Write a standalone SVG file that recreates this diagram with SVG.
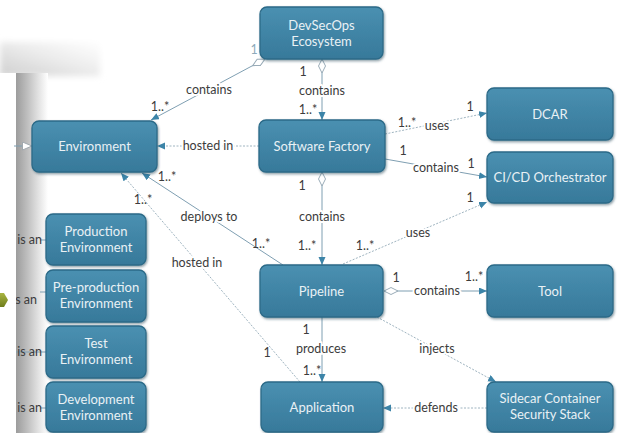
<svg xmlns="http://www.w3.org/2000/svg" width="627" height="433" viewBox="0 0 627 433">
  <defs>
    <linearGradient id="nodeFill" x1="0" y1="0" x2="0" y2="1">
      <stop offset="0" stop-color="#4a90b1"/>
      <stop offset="1" stop-color="#37799a"/>
    </linearGradient>
    <linearGradient id="sideShade" x1="0" y1="0" x2="1" y2="0">
      <stop offset="0" stop-color="#9c9c9c"/>
      <stop offset="0.35" stop-color="#bebebe"/>
      <stop offset="0.7" stop-color="#e2e2e2"/>
      <stop offset="1" stop-color="#ffffff"/>
    </linearGradient>
    <linearGradient id="topShade" x1="0" y1="1" x2="1" y2="0">
      <stop offset="0" stop-color="#cfcfcf"/>
      <stop offset="0.6" stop-color="#efefef"/>
      <stop offset="1" stop-color="#ffffff"/>
    </linearGradient>
    <linearGradient id="olive" x1="0" y1="0" x2="0" y2="1">
      <stop offset="0" stop-color="#a9b542"/>
      <stop offset="1" stop-color="#6f7d1c"/>
    </linearGradient>
    <filter id="shadow" x="-10%" y="-10%" width="125%" height="130%">
      <feDropShadow dx="1" dy="1.5" stdDeviation="1" flood-color="#1d3f52" flood-opacity="0.5"/>
    </filter>
    <filter id="soft" x="-20%" y="-50%" width="140%" height="200%">
      <feGaussianBlur stdDeviation="3"/>
    </filter>
    <clipPath id="panelClip">
      <rect x="16" y="73" width="40" height="360"/>
    </clipPath>
    <marker id="arrow" markerUnits="userSpaceOnUse" markerWidth="9" markerHeight="8" refX="8" refY="3.5" orient="auto">
      <path d="M0,0 L8,3.5 L0,7 z" fill="#3c84a8"/>
    </marker>
    <marker id="agg" markerUnits="userSpaceOnUse" markerWidth="16" markerHeight="10" refX="0.5" refY="4" orient="auto">
      <path d="M0.5,4 L7.5,0.5 L14.5,4 L7.5,7.5 z" fill="#ffffff" stroke="#9aacb8" stroke-width="1"/>
    </marker>
    <marker id="gen" markerUnits="userSpaceOnUse" markerWidth="12" markerHeight="10" refX="10" refY="4.5" orient="auto">
      <path d="M0.5,0.5 L10,4.5 L0.5,8.5 z" fill="#ffffff" stroke="#a0a8ae" stroke-width="1"/>
    </marker>
    <style>
      .node rect { fill: url(#nodeFill); stroke: #2c6a88; stroke-width: 1.3; filter: url(#shadow); }
      .node text { font-family: "Lato", "Open Sans", "Liberation Sans", sans-serif; font-size: 13px; fill: #e9f1f5; text-anchor: middle; }
      .solid { fill: none; stroke: #7f9fb2; stroke-width: 1; }
      .dot { fill: none; stroke: #9fb4c0; stroke-width: 1; stroke-dasharray: 2 1.5; }
      .lbl { font-family: "Lato", "Open Sans", "Liberation Sans", sans-serif; font-size: 12.5px; fill: #3c3c3c; text-anchor: middle; paint-order: stroke; stroke: #ffffff; stroke-width: 4px; stroke-linejoin: round; }
      .mul { font-family: "Lato", "Open Sans", "Liberation Sans", sans-serif; font-size: 12.5px; fill: #3c3c3c; text-anchor: middle; }
      .isan { font-family: "Lato", "Open Sans", "Liberation Sans", sans-serif; font-size: 12.5px; fill: #3c3c3c; text-anchor: end; }
    </style>
  </defs>

  <!-- page background and side panel shading -->
  <rect x="0" y="0" width="627" height="433" fill="#ffffff"/>
  <rect x="0" y="42" width="100" height="34" fill="url(#topShade)" filter="url(#soft)"/>
  <rect x="0" y="73" width="16" height="360" fill="#ffffff"/>
  <rect x="16" y="73" width="32" height="360" fill="url(#sideShade)"/>
  <polygon points="0,293 4,293 8,300 4,307 0,307" fill="url(#olive)"/>

  <!-- connectors -->
  <g id="connectors">
    <!-- generalization into Environment -->
    <line class="solid" x1="14" y1="146" x2="32" y2="146" stroke="#a0a8ae" marker-end="url(#gen)"/>
    <g clip-path="url(#panelClip)">
      <line class="solid" x1="40" y1="240" x2="46" y2="240" stroke="#a0a8ae"/>
      <line class="solid" x1="40" y1="292" x2="46" y2="292" stroke="#a0a8ae"/>
      <line class="solid" x1="16" y1="352" x2="46" y2="352" stroke="#a0a8ae"/>
      <line class="solid" x1="40" y1="408" x2="46" y2="408" stroke="#a0a8ae"/>
      <text class="isan" x="42" y="244">is an</text>
      <text class="isan" x="37" y="304">is an</text>
      <text class="isan" x="42" y="356">is an</text>
      <text class="isan" x="42" y="412">is an</text>
    </g>

    <!-- DevSecOps Ecosystem contains Environment -->
    <path class="solid" d="M265,59 L151,120" marker-start="url(#agg)" marker-end="url(#arrow)"/>
    <text class="lbl" x="209" y="94">contains</text>
    <text class="mul" x="254" y="54" style="fill:#8eaabb">1</text>
    <text class="mul" x="160" y="111">1..*</text>

    <!-- DevSecOps Ecosystem contains Software Factory -->
    <path class="solid" d="M322,59 L322,120" marker-start="url(#agg)" marker-end="url(#arrow)"/>
    <text class="lbl" x="322" y="95">contains</text>
    <text class="mul" x="303" y="76">1</text>
    <text class="mul" x="308" y="114">1..*</text>

    <!-- Software Factory hosted in Environment -->
    <path class="dot" d="M259,146 L157,146" marker-end="url(#arrow)"/>
    <text class="lbl" x="208" y="150">hosted in</text>

    <!-- Software Factory uses DCAR -->
    <path class="dot" d="M385,134 L487,113" marker-end="url(#arrow)"/>
    <text class="mul" x="407" y="127">1..*</text>
    <text class="lbl" x="437" y="130">uses</text>
    <text class="mul" x="470" y="111">1</text>

    <!-- Software Factory contains CI/CD Orchestrator -->
    <path class="solid" d="M385,159 L487,177" marker-end="url(#arrow)"/>
    <text class="mul" x="403" y="155">1</text>
    <text class="lbl" x="436" y="172">contains</text>
    <text class="mul" x="471" y="168">1</text>

    <!-- Software Factory contains Pipeline -->
    <path class="solid" d="M322,172 L322,265" marker-start="url(#agg)" marker-end="url(#arrow)"/>
    <text class="mul" x="302" y="190">1</text>
    <text class="lbl" x="322" y="221">contains</text>
    <text class="mul" x="307" y="250">1..*</text>

    <!-- Pipeline uses CI/CD Orchestrator -->
    <path class="dot" d="M343,264 L487,202" marker-end="url(#arrow)"/>
    <text class="lbl" x="418" y="237">uses</text>
    <text class="mul" x="365" y="250">1..*</text>
    <text class="mul" x="470" y="202">1</text>

    <!-- Pipeline contains Tool -->
    <path class="solid" d="M384,291 L487,291" marker-start="url(#agg)" marker-end="url(#arrow)"/>
    <text class="mul" x="396" y="282">1</text>
    <text class="lbl" x="437" y="295">contains</text>
    <text class="mul" x="474" y="281">1..*</text>

    <!-- Pipeline injects Sidecar Container Security Stack -->
    <path class="dot" d="M377,317 L496,382" marker-end="url(#arrow)"/>
    <text class="lbl" x="437" y="353">injects</text>

    <!-- Pipeline produces Application -->
    <path class="solid" d="M322,317 L322,382" marker-end="url(#arrow)"/>
    <text class="mul" x="306" y="334">1</text>
    <text class="lbl" x="321" y="353">produces</text>
    <text class="mul" x="312" y="375">1..*</text>

    <!-- Sidecar Container Security Stack defends Application -->
    <path class="dot" d="M487,408 L383,408" marker-end="url(#arrow)"/>
    <text class="lbl" x="436" y="412">defends</text>

    <!-- Pipeline deploys to Environment -->
    <path class="solid" d="M283,265 L142,173" stroke="#a8b6bf" marker-end="url(#arrow)"/>
    <text class="mul" x="167" y="181">1..*</text>
    <text class="lbl" x="209" y="221">deploys to</text>
    <text class="mul" x="261" y="248">1..*</text>

    <!-- Application hosted in Environment -->
    <path class="dot" d="M300,382 L121,173" marker-end="url(#arrow)"/>
    <text class="mul" x="143" y="204">1..*</text>
    <text class="lbl" x="197" y="267">hosted in</text>
    <text class="mul" x="267" y="357">1</text>
  </g>

  <!-- nodes -->
  <g id="devsecops-ecosystem" class="node">
    <rect x="260" y="7" width="123" height="52" rx="7"/>
    <text x="321.5" y="30">DevSecOps</text>
    <text x="321.5" y="46">Ecosystem</text>
  </g>
  <g id="environment" class="node">
    <rect x="32" y="121" width="125" height="51" rx="7"/>
    <text x="94.5" y="151">Environment</text>
  </g>
  <g id="software-factory" class="node">
    <rect x="259" y="120" width="126" height="52" rx="7"/>
    <text x="322" y="150.5">Software Factory</text>
  </g>
  <g id="dcar" class="node">
    <rect x="487" y="88" width="126" height="52" rx="7"/>
    <text x="550" y="118.5">DCAR</text>
  </g>
  <g id="cicd-orchestrator" class="node">
    <rect x="487" y="152" width="126" height="51" rx="7"/>
    <text x="550" y="182">CI/CD Orchestrator</text>
  </g>
  <g id="production-environment" class="node">
    <rect x="46" y="214" width="100" height="51" rx="7"/>
    <text x="96" y="236">Production</text>
    <text x="96" y="252">Environment</text>
  </g>
  <g id="preproduction-environment" class="node">
    <rect x="46" y="270" width="100" height="52" rx="7"/>
    <text x="96" y="292">Pre-production</text>
    <text x="96" y="308">Environment</text>
  </g>
  <g id="test-environment" class="node">
    <rect x="46" y="326" width="100" height="52" rx="7"/>
    <text x="96" y="348">Test</text>
    <text x="96" y="364">Environment</text>
  </g>
  <g id="development-environment" class="node">
    <rect x="46" y="382" width="100" height="50" rx="7"/>
    <text x="96" y="404">Development</text>
    <text x="96" y="420">Environment</text>
  </g>
  <g id="pipeline" class="node">
    <rect x="260" y="265" width="123" height="52" rx="7"/>
    <text x="321.5" y="295.5">Pipeline</text>
  </g>
  <g id="tool" class="node">
    <rect x="487" y="265" width="126" height="52" rx="7"/>
    <text x="550" y="295.5">Tool</text>
  </g>
  <g id="application" class="node">
    <rect x="261" y="382" width="122" height="50" rx="7"/>
    <text x="322" y="411.5">Application</text>
  </g>
  <g id="sidecar-container-security-stack" class="node">
    <rect x="487" y="382" width="126" height="50" rx="7"/>
    <text x="550" y="403">Sidecar Container</text>
    <text x="550" y="419">Security Stack</text>
  </g>
</svg>
